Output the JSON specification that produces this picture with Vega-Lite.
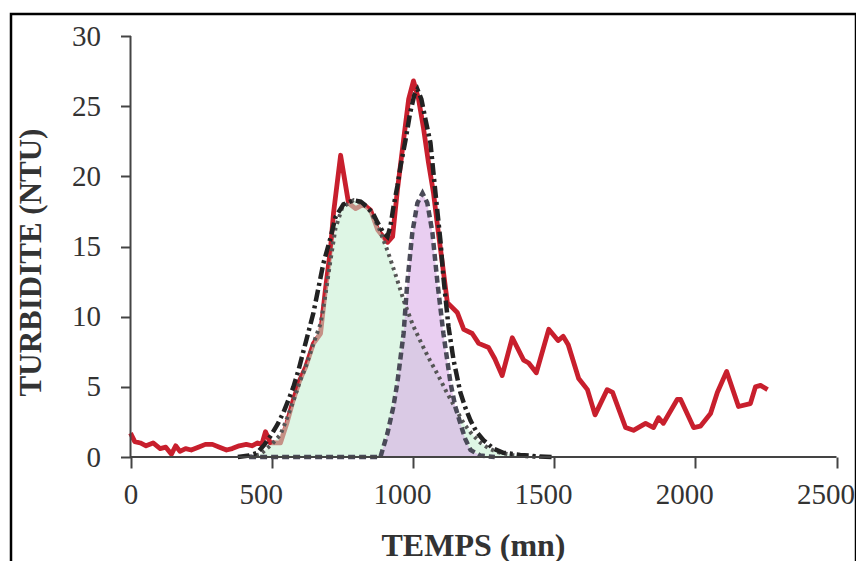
{
  "$schema": "https://vega.github.io/schema/vega-lite/v6.json",
  "autosize": "none",
  "padding": {"left": 11, "top": 14, "right": 0, "bottom": 0},
  "width": 845,
  "height": 560,
  "background": "white",
  "config": {
    "view": {"stroke": "#000000", "strokeWidth": 2.5},
    "font": "Liberation Serif"
  },
  "datasets": {
    "mesure": [
      {"t": 0, "v": 1.7}, {"t": 15, "v": 1.1}, {"t": 35, "v": 1.0}, {"t": 55, "v": 0.8}, {"t": 80, "v": 1.0},
      {"t": 105, "v": 0.6}, {"t": 125, "v": 0.7}, {"t": 145, "v": 0.2}, {"t": 160, "v": 0.8}, {"t": 175, "v": 0.4},
      {"t": 195, "v": 0.6}, {"t": 215, "v": 0.5}, {"t": 240, "v": 0.7}, {"t": 265, "v": 0.9}, {"t": 290, "v": 0.9},
      {"t": 315, "v": 0.7}, {"t": 340, "v": 0.5}, {"t": 360, "v": 0.6}, {"t": 385, "v": 0.8}, {"t": 410, "v": 0.9},
      {"t": 430, "v": 0.8}, {"t": 450, "v": 1.0}, {"t": 465, "v": 0.9}, {"t": 478, "v": 1.8}, {"t": 495, "v": 1.0},
      {"t": 531, "v": 1.0}, {"t": 555, "v": 2.5}, {"t": 577, "v": 4.1}, {"t": 600, "v": 5.5}, {"t": 620, "v": 6.4},
      {"t": 648, "v": 8.1}, {"t": 673, "v": 8.8}, {"t": 690, "v": 11.9}, {"t": 708, "v": 14.8}, {"t": 719, "v": 17.4},
      {"t": 744, "v": 21.5}, {"t": 772, "v": 18.1}, {"t": 797, "v": 17.7}, {"t": 825, "v": 18.0}, {"t": 850, "v": 17.6},
      {"t": 875, "v": 16.2}, {"t": 910, "v": 15.3}, {"t": 928, "v": 15.7}, {"t": 945, "v": 19.0}, {"t": 967, "v": 22.6},
      {"t": 985, "v": 25.5}, {"t": 1002, "v": 26.8}, {"t": 1020, "v": 25.5}, {"t": 1037, "v": 23.5}, {"t": 1055, "v": 21.0},
      {"t": 1073, "v": 18.8}, {"t": 1090, "v": 16.0}, {"t": 1103, "v": 14.0}, {"t": 1122, "v": 11.0}, {"t": 1157, "v": 10.3},
      {"t": 1180, "v": 9.1}, {"t": 1210, "v": 8.8}, {"t": 1233, "v": 8.1}, {"t": 1268, "v": 7.8}, {"t": 1290, "v": 7.0},
      {"t": 1316, "v": 5.8}, {"t": 1352, "v": 8.5}, {"t": 1392, "v": 6.9}, {"t": 1410, "v": 6.7}, {"t": 1437, "v": 6.0},
      {"t": 1481, "v": 9.1}, {"t": 1514, "v": 8.3}, {"t": 1532, "v": 8.6}, {"t": 1550, "v": 8.0}, {"t": 1587, "v": 5.6},
      {"t": 1618, "v": 4.8}, {"t": 1645, "v": 3.0}, {"t": 1688, "v": 4.8}, {"t": 1707, "v": 4.6}, {"t": 1753, "v": 2.1},
      {"t": 1781, "v": 1.9}, {"t": 1824, "v": 2.4}, {"t": 1852, "v": 2.1}, {"t": 1870, "v": 2.8}, {"t": 1887, "v": 2.4},
      {"t": 1936, "v": 4.1}, {"t": 1948, "v": 4.1}, {"t": 1994, "v": 2.1}, {"t": 2018, "v": 2.2}, {"t": 2054, "v": 3.1},
      {"t": 2078, "v": 4.6}, {"t": 2111, "v": 6.1}, {"t": 2153, "v": 3.6}, {"t": 2195, "v": 3.8}, {"t": 2213, "v": 5.0},
      {"t": 2231, "v": 5.1}, {"t": 2256, "v": 4.8}
    ],
    "comp1": [
      {"t": 420, "v": 0}, {"t": 460, "v": 0.2}, {"t": 500, "v": 0.9}, {"t": 531, "v": 1.6}, {"t": 555, "v": 2.8},
      {"t": 577, "v": 4.0}, {"t": 600, "v": 5.4}, {"t": 620, "v": 6.4}, {"t": 648, "v": 8.1}, {"t": 673, "v": 9.5},
      {"t": 690, "v": 11.5}, {"t": 708, "v": 14.0}, {"t": 726, "v": 16.3}, {"t": 750, "v": 17.8}, {"t": 790, "v": 18.3},
      {"t": 820, "v": 18.1}, {"t": 850, "v": 17.5}, {"t": 880, "v": 16.3}, {"t": 910, "v": 14.7}, {"t": 940, "v": 12.9},
      {"t": 970, "v": 11.0}, {"t": 1000, "v": 9.4}, {"t": 1030, "v": 8.1}, {"t": 1060, "v": 6.9}, {"t": 1090, "v": 5.8},
      {"t": 1120, "v": 4.6}, {"t": 1150, "v": 3.5}, {"t": 1180, "v": 2.4}, {"t": 1210, "v": 1.6}, {"t": 1240, "v": 1.0},
      {"t": 1270, "v": 0.6}, {"t": 1300, "v": 0.35}, {"t": 1350, "v": 0.15}, {"t": 1400, "v": 0.05}, {"t": 1450, "v": 0}
    ],
    "comp2": [
      {"t": 420, "v": 0}, {"t": 885, "v": 0}, {"t": 910, "v": 1.7}, {"t": 930, "v": 3.5}, {"t": 945, "v": 5.3},
      {"t": 967, "v": 8.8}, {"t": 980, "v": 12.4}, {"t": 998, "v": 16.0}, {"t": 1016, "v": 18.1}, {"t": 1034, "v": 18.8},
      {"t": 1051, "v": 18.1}, {"t": 1069, "v": 16.0}, {"t": 1087, "v": 12.4}, {"t": 1108, "v": 8.8}, {"t": 1133, "v": 5.3},
      {"t": 1150, "v": 3.6}, {"t": 1168, "v": 2.4}, {"t": 1185, "v": 1.3}, {"t": 1204, "v": 0.5}, {"t": 1239, "v": 0.1},
      {"t": 1290, "v": 0}
    ],
    "somme": [
      {"t": 380, "v": 0}, {"t": 420, "v": 0.1}, {"t": 449, "v": 0.3}, {"t": 475, "v": 0.9}, {"t": 496, "v": 1.5},
      {"t": 520, "v": 2.3}, {"t": 542, "v": 3.2}, {"t": 560, "v": 4.1}, {"t": 577, "v": 5.0}, {"t": 595, "v": 6.2},
      {"t": 613, "v": 7.6}, {"t": 630, "v": 8.9}, {"t": 648, "v": 10.3}, {"t": 665, "v": 12.0}, {"t": 683, "v": 13.8},
      {"t": 708, "v": 15.6}, {"t": 726, "v": 17.1}, {"t": 754, "v": 18.0}, {"t": 790, "v": 18.3}, {"t": 815, "v": 18.2},
      {"t": 839, "v": 17.8}, {"t": 860, "v": 17.3}, {"t": 875, "v": 16.7}, {"t": 895, "v": 16.0}, {"t": 910, "v": 15.7},
      {"t": 920, "v": 16.4}, {"t": 931, "v": 17.8}, {"t": 945, "v": 19.3}, {"t": 956, "v": 20.7}, {"t": 974, "v": 22.6},
      {"t": 990, "v": 24.5}, {"t": 1005, "v": 25.8}, {"t": 1016, "v": 26.2}, {"t": 1030, "v": 25.5}, {"t": 1045, "v": 24.0},
      {"t": 1062, "v": 22.4}, {"t": 1080, "v": 18.8}, {"t": 1098, "v": 15.3}, {"t": 1108, "v": 12.8}, {"t": 1126, "v": 9.3},
      {"t": 1144, "v": 6.9}, {"t": 1168, "v": 4.6}, {"t": 1186, "v": 3.5}, {"t": 1204, "v": 2.6}, {"t": 1225, "v": 1.8},
      {"t": 1250, "v": 1.2}, {"t": 1285, "v": 0.6}, {"t": 1320, "v": 0.3}, {"t": 1380, "v": 0.15}, {"t": 1440, "v": 0.05},
      {"t": 1500, "v": 0}
    ],
    "axes": [
      {"t": 0, "t2": 2500, "v": 0, "v2": 0},
      {"t": 0, "t2": 0, "v": 0, "v2": 30}
    ]
  },
  "encoding": {
    "x": {
      "field": "t", "type": "quantitative",
      "scale": {"domain": [-423.2, 2569.05], "nice": false, "zero": false},
      "axis": {
        "title": "TEMPS (mn)",
        "offset": -117,
        "values": [0, 500, 1000, 1500, 2000, 2500],
        "format": "d",
        "domain": false, "grid": false,
        "tickSize": 11, "tickWidth": 2, "tickColor": "#444",
        "labelFont": "Liberation Serif", "labelFontSize": 29, "labelColor": "#333",
        "labelPadding": 12,
        "labelOffset": {"condition": {"test": "datum.value > 0", "value": -11}, "value": 0},
        "labelFlush": false, "labelOverlap": false,
        "titleFont": "Liberation Serif", "titleFontSize": 32, "titleFontWeight": "bold", "titleColor": "#333",
        "titleX": 462, "titleY": 88, "titleAlign": "center", "titleBaseline": "middle"
      }
    },
    "y": {
      "field": "v", "type": "quantitative",
      "scale": {"domain": [-8.337, 31.568], "nice": false, "zero": false},
      "axis": {
        "title": "TURBIDITE (NTU)",
        "offset": -119.5,
        "values": [0, 5, 10, 15, 20, 25, 30],
        "domain": false, "grid": false,
        "tickSize": 10, "tickWidth": 2, "tickColor": "#444",
        "labelFont": "Liberation Serif", "labelFontSize": 29, "labelColor": "#333",
        "labelPadding": 20,
        "labelFlush": false, "labelOverlap": false,
        "titleFont": "Liberation Serif", "titleFontSize": 31, "titleFontWeight": "bold", "titleColor": "#333",
        "titleAngle": -90, "titleX": -99, "titleY": 248, "titleAlign": "center", "titleBaseline": "middle"
      }
    }
  },
  "layer": [
    {
      "data": {"name": "mesure"},
      "mark": {"type": "line", "color": "#c81f2d", "strokeWidth": 4.8, "strokeJoin": "round"},
      "encoding": {}
    },
    {
      "data": {"name": "comp1"},
      "mark": {"type": "area", "color": "#c2efd0", "opacity": 0.55},
      "encoding": {"y2": {"datum": 0}}
    },
    {
      "data": {"name": "comp2"},
      "mark": {"type": "area", "color": "#d7a6e6", "opacity": 0.55},
      "encoding": {"y2": {"datum": 0}}
    },
    {
      "data": {"name": "comp1"},
      "mark": {"type": "line", "color": "#555555", "strokeWidth": 4, "strokeDash": [3, 4]},
      "encoding": {}
    },
    {
      "data": {"name": "comp2"},
      "mark": {"type": "line", "color": "#4a4a58", "strokeWidth": 4.5, "strokeDash": [7, 4]},
      "encoding": {}
    },
    {
      "data": {"name": "somme"},
      "mark": {"type": "line", "color": "#222222", "strokeWidth": 4.5, "strokeDash": [12, 4, 3, 4]},
      "encoding": {}
    },
    {
      "data": {"name": "axes"},
      "mark": {"type": "rule", "color": "#444444", "strokeWidth": 2},
      "encoding": {
        "x2": {"field": "t2"},
        "y2": {"field": "v2"}
      }
    }
  ]
}
